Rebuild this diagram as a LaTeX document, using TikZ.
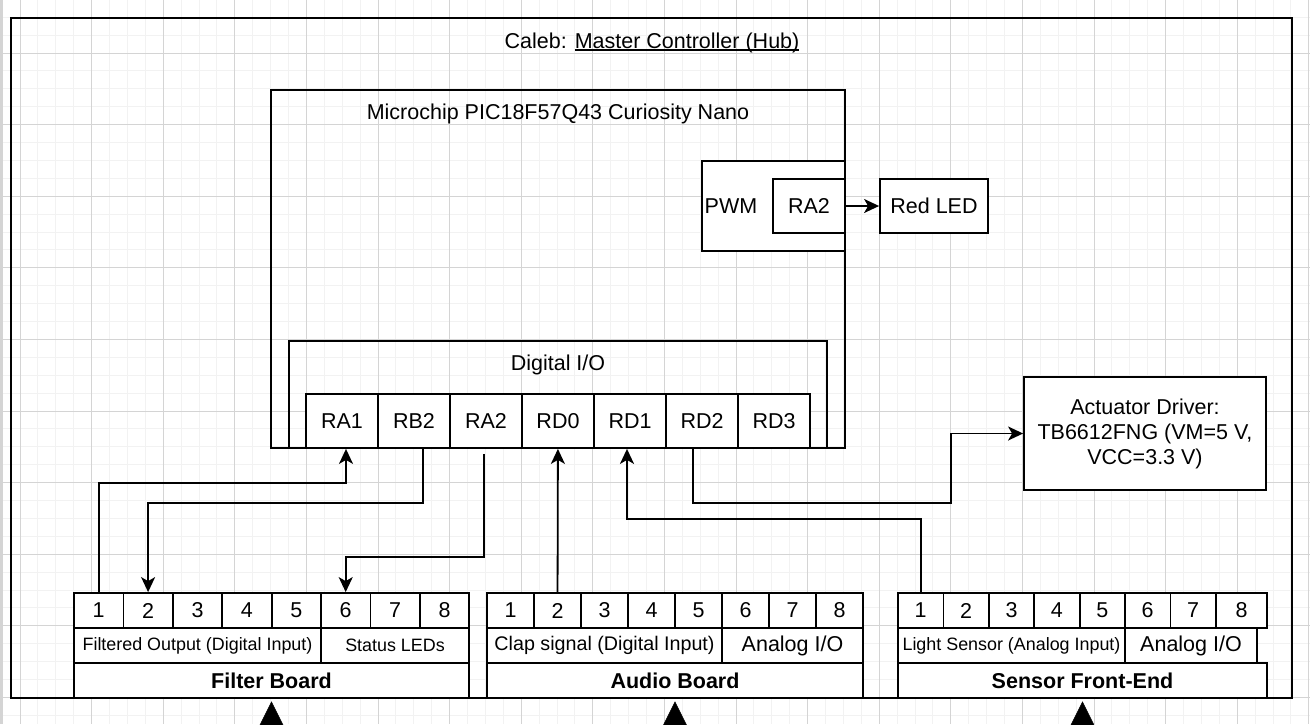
\documentclass[tikz,border=0pt]{standalone}
\usepackage{fontspec}
\setmainfont{Liberation Sans}
\usepackage{tikz}
\usetikzlibrary{arrows.meta}
\usetikzlibrary{calc}

\definecolor{minorgray}{HTML}{F2F2F2}
\definecolor{majorgray}{HTML}{D4D4D4}
\newcommand{\setfs}[2]{\fontsize{#1}{#2}\selectfont}
\newcommand{\ulinetext}[1]{\setbox0\hbox{#1}\rlap{\rule[-2.2pt]{\wd0}{1.4pt}}\box0}

\tikzset{
  gridminor/.style={draw=minorgray,line width=1pt},
  gridmajor/.style={draw=majorgray,line width=1pt},
}

\begin{document}
\begin{tikzpicture}[x=1pt,y=-1pt]
\useasboundingbox (0,0) rectangle (1310,724);
\fill[white] (0,0) rectangle (1310,724);
\foreach \i in {-1,...,72} \draw[gridminor] ({20+17.9*\i},0) -- ({20+17.9*\i},724);
\foreach \i in {-1,...,40} \draw[gridminor] (0,{17.2+17.9*\i}) -- (1310,{17.2+17.9*\i});
\foreach \i in {0,...,18} \draw[gridmajor] ({20+71.6*\i},0) -- ({20+71.6*\i},724);
\foreach \i in {0,...,9} \draw[gridmajor] (0,{53+71.6*\i}) -- (1310,{53+71.6*\i});
\fill[majorgray] (0,0) rectangle (2.5,724);

\begin{scope}[every node/.style={rectangle,draw,line width=1.8pt,inner sep=0pt,font=\setfs{21.5}{25}}]
    \node[minimum width=1281pt,minimum height=680pt] (hub) at (651.5,358) {};
    \node[minimum width=574pt,minimum height=358pt] (mcu) at (558,269) {};
    \node[minimum width=538pt,minimum height=107pt] (dio) at (558,394.5) {};
    \node[fill=white,minimum width=143pt,minimum height=90pt] (pwm) at (773.5,206) {};
    \node[fill=white,minimum width=72pt,minimum height=54pt] (pra2) at (809,206) {RA2};
    \node[fill=white,minimum width=108pt,minimum height=54pt] (led) at (934,206) {Red LED};
    \node[fill=white,minimum width=242pt,minimum height=113pt,align=center] (act) at (1145,433.5) {Actuator Driver:\\TB6612FNG (VM=5 V,\\VCC=3.3 V)};
    \foreach \n/\t [count=\k] in {ra1/RA1,rb2/RB2,ra2/RA2,rd0/RD0,rd1/RD1,rd2/RD2,rd3/RD3}
        \node[fill=white,minimum width=72pt,minimum height=54pt] (\n) at ({270+72*\k},421) {\t};
    \end{scope}

\begin{scope}[every node/.style={inner sep=0pt,font=\setfs{21.5}{25}}]
    \node (hubtitle) at (652,43) {Caleb: \ulinetext{Master Controller (Hub)}};
    \node (mcutitle) at (558,114) {Microchip PIC18F57Q43 Curiosity Nano};
    \node (diotitle) at (558,365) {Digital I/O};
    \node (pwmtitle) at (731,206) {PWM};
    \end{scope}

\begin{scope}[every node/.style={rectangle,draw,fill=white,line width=1.8pt,inner sep=0pt,minimum height=35pt,font=\setfs{21.5}{24}}]
    \foreach \i in {1,...,8} \node[minimum width=49.4pt] (f\i) at ({49.3+49.4*\i},610.5) {\i};
    \node[minimum width=247pt,font=\setfs{17.9}{20}] (fout) at (197.5,645.5) {Filtered Output (Digital Input)};
    \node[minimum width=148pt,font=\setfs{17.9}{20}] (fled) at (395,645.5) {Status LEDs};
    \node[minimum width=395pt,font=\bfseries\setfs{21.5}{24}] (fb) at (271.5,680.5) {Filter Board};

    \foreach \i in {1,...,8} \node[minimum width=47pt] (a\i) at ({463.5+47*\i},610.5) {\i};
    \node[minimum width=235pt,font=\setfs{19.7}{22}] (aclap) at (604.5,645.5) {Clap signal (Digital Input)};
    \node[minimum width=141pt] (aio) at (792.5,645.5) {Analog I/O};
    \node[minimum width=376pt,font=\bfseries\setfs{21.5}{24}] (ab) at (675,680.5) {Audio Board};

    \foreach \i in {1,...,7} \node[minimum width=45.4pt] (s\i) at ({875.3+45.4*\i},610.5) {\i};
    \node[minimum width=51pt] (s8) at (1241.5,610.5) {8};
    \node[minimum width=227pt,font=\setfs{17.9}{20}] (slight) at (1011.5,645.5) {Light Sensor (Analog Input)};
    \node[minimum width=132pt] (sio) at (1191,645.5) {Analog I/O};
    \node[minimum width=369pt,font=\bfseries\setfs{21.5}{24}] (sb) at (1082.5,680.5) {Sensor Front-End};
    \end{scope}

\begin{scope}[>={Stealth[length=15pt,width=14pt,inset=4pt]},
              line width=1.8pt,
              every edge/.style={draw,line width=1.8pt}]
    \draw[->] (f1.north) -- ++(0,-109) -| ([xshift=4pt]ra1.south);
    \draw[->] ([xshift=9pt]rb2.south) -- ++(0,54) -| (f2.north);
    \draw[->] ([xshift=-2pt,yshift=-5pt]ra2.south) -- ++(0,103) -| (f6.north);
    \path[->] (a2) edge (rd0);
    \draw[->] (s1.north) -- ++(0,-73) -| ([xshift=-3pt]rd1.south);
    \draw[->] ([xshift=-9pt]rd2.south) -- ++(0,54) -| ($(act.west)+(-72,0)$) -- (act.west);
    \path[->] (pra2) edge (led);
    \end{scope}

\begin{scope}[>={Triangle[length=32pt,width=32pt]}]
    \coordinate (fin) at (271.5,750);
    \coordinate (ain) at (675,750);
    \coordinate (sin) at (1082.5,750);
    \draw[->] (fin) -- ([yshift=-2.5pt]fb.south);
    \draw[->] (ain) -- ([yshift=-2.5pt]ab.south);
    \draw[->] (sin) -- ([yshift=-2.5pt]sb.south);
    \end{scope}

\end{tikzpicture}
\end{document}
